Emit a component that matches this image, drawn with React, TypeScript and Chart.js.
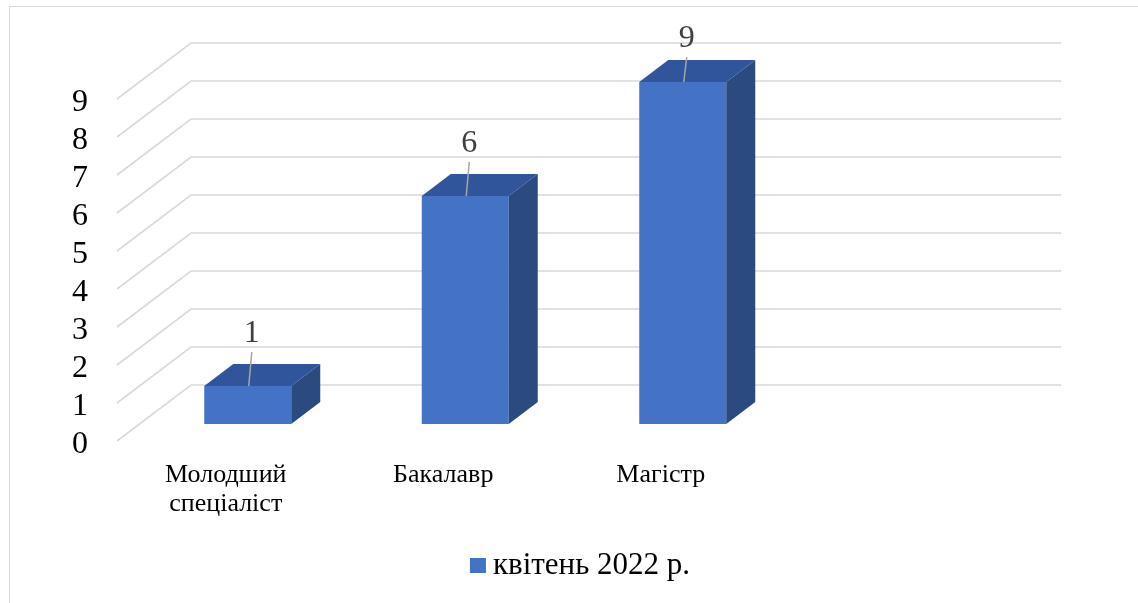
import React, { useEffect, useRef } from "react";
import { Chart, registerables } from "chart.js";

Chart.register(...registerables);

const categories: (string | string[])[] = [["Молодший", "спеціаліст"], "Бакалавр", "Магістр", ""];
const seriesLabel = "квітень 2022 р.";
const seriesValues: (number | null)[] = [1, 6, 9, null];
const yMin = 0;
const yMax = 9;
const yStep = 1;

const FONT = "'Liberation Serif', 'Times New Roman', serif";
const FRONT = "#4472C4";
const TOP = "#30559A";
const SIDE = "#2A4A80";
const GRID = "#D9D9D9";

Chart.defaults.font.family = FONT;

// 3D projection offsets (pixels)
const DEPTH_BAR = { dx: 29, dy: 22 };
const WALL = { dx: 52, dy: 39 };
const FLOOR_FRONT = { dx: -22, dy: 17 };

const wallPlugin = {
  id: "wall3d",
  beforeDatasetsDraw(chart: any) {
    const { ctx, chartArea } = chart;
    const y = chart.scales.y;
    ctx.save();
    ctx.strokeStyle = GRID;
    ctx.lineWidth = 1.6;
    y.ticks.forEach((t: any) => {
      const py = y.getPixelForValue(t.value);
      ctx.beginPath();
      ctx.moveTo(chartArea.left + FLOOR_FRONT.dx, py + FLOOR_FRONT.dy);
      ctx.lineTo(chartArea.left + WALL.dx, py - WALL.dy);
      ctx.lineTo(chartArea.right + WALL.dx, py - WALL.dy);
      ctx.stroke();
    });
    ctx.restore();
  },
  afterDatasetsDraw(chart: any) {
    const { ctx, chartArea } = chart;
    const meta = chart.getDatasetMeta(0);
    const data = chart.data.datasets[0].data;
    ctx.save();
    meta.data.forEach((bar: any, i: number) => {
      if (data[i] == null) return;
      const { x, y, base, width } = bar.getProps(["x", "y", "base", "width"], true);
      const l = x - width / 2;
      const r = x + width / 2;
      const { dx, dy } = DEPTH_BAR;
      ctx.fillStyle = TOP;
      ctx.beginPath();
      ctx.moveTo(l, y);
      ctx.lineTo(l + dx, y - dy);
      ctx.lineTo(r + dx, y - dy);
      ctx.lineTo(r, y);
      ctx.closePath();
      ctx.fill();
      ctx.fillStyle = SIDE;
      ctx.beginPath();
      ctx.moveTo(r, y);
      ctx.lineTo(r + dx, y - dy);
      ctx.lineTo(r + dx, base - dy);
      ctx.lineTo(r, base);
      ctx.closePath();
      ctx.fill();
      const lx = x + 4;
      const ly = Math.max(y - 55, chartArea.top - 46);
      ctx.strokeStyle = "#A6A6A6";
      ctx.lineWidth = 1.5;
      ctx.beginPath();
      ctx.moveTo(x + 1, y);
      ctx.lineTo(lx, ly + 21);
      ctx.stroke();
      ctx.fillStyle = "#404040";
      ctx.font = `32px ${FONT}`;
      ctx.textAlign = "center";
      ctx.textBaseline = "middle";
      ctx.fillText(String(data[i]), lx, ly + 3);
    });
    ctx.restore();
  },
  afterDraw(chart: any) {
    const { ctx, width } = chart;
    const ds = chart.data.datasets[0];
    ctx.save();
    ctx.font = `31px ${FONT}`;
    const tw = ctx.measureText(ds.label).width;
    const box = 16;
    const gap = 7;
    const total = box + gap + tw;
    const cx = width / 2 + 11;
    const x0 = cx - total / 2;
    const cy = 566;
    ctx.fillStyle = FRONT;
    ctx.fillRect(x0, cy - 8, box, 15);
    ctx.fillStyle = "#000";
    ctx.textAlign = "left";
    ctx.textBaseline = "middle";
    ctx.fillText(ds.label, x0 + box + gap, cy);
    ctx.restore();
  },
};

export default function App() {
  const ref = useRef<HTMLCanvasElement>(null);
  useEffect(() => {
    if (!ref.current) return;
    const chart = new Chart(ref.current, {
      type: "bar",
      data: {
        labels: categories,
        datasets: [
          {
            label: seriesLabel,
            data: seriesValues,
            backgroundColor: FRONT,
            borderWidth: 0,
            barPercentage: 0.4,
            categoryPercentage: 1,
          },
        ],
      },
      options: {
        responsive: false,
        animation: false,
        layout: { padding: { top: 82, right: 129, bottom: 0, left: 0 } },
        plugins: { legend: { display: false }, tooltip: { enabled: false } },
        scales: {
          x: {
            grid: { display: false, drawTicks: false },
            border: { display: false },
            ticks: {
              font: { family: FONT, size: 26, lineHeight: 1.1 },
              color: "#000",
              padding: 37,
              labelOffset: FLOOR_FRONT.dx,
              maxRotation: 0,
              autoSkip: false,
            },
            afterFit: (s: any) => {
              s.height = 179;
            },
          },
          y: {
            min: yMin,
            max: yMax,
            grid: { display: false, drawTicks: false },
            border: { display: false },
            ticks: {
              stepSize: yStep,
              autoSkip: false,
              maxTicksLimit: 20,
              font: { family: FONT, size: 32, lineHeight: 1 },
              color: "#000",
              padding: 51,
              labelOffset: FLOOR_FRONT.dy + 4,
            },
            afterFit: (s: any) => {
              s.width = 139;
            },
          },
        },
      },
      plugins: [wallPlugin],
    });
    return () => chart.destroy();
  }, []);
  return (
    <div
      style={{
        position: "absolute",
        left: 0,
        top: 0,
        width: 1138,
        height: 603,
        overflow: "hidden",
        background: "#fff",
      }}
    >
      <div
        style={{
          position: "absolute",
          left: 9,
          top: 6,
          width: 1200,
          height: 700,
          border: "1px solid #D9D9D9",
        }}
      />
      <canvas ref={ref} width={1138} height={603} style={{ position: "absolute", left: 0, top: 0, display: "block" }} />
    </div>
  );
}
